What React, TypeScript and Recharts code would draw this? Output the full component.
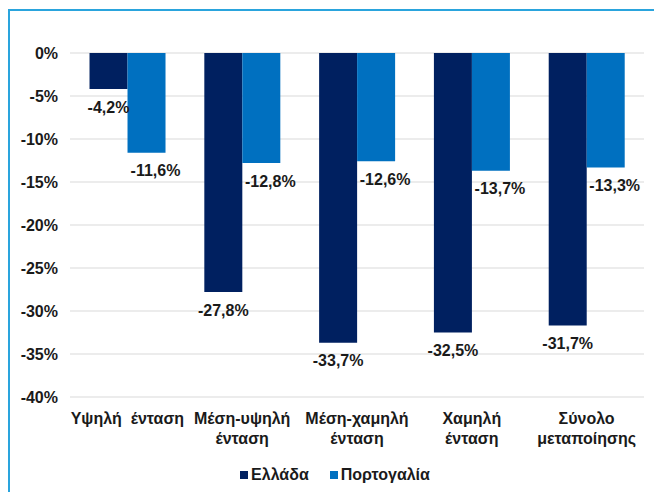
import { BarChart, Bar, XAxis, YAxis, CartesianGrid, Legend, LabelList } from "recharts";

const CATEGORIES = [
  ["Υψηλή  ένταση"],
  ["Μέση-υψηλή", "ένταση"],
  ["Μέση-χαμηλή", "ένταση"],
  ["Χαμηλή", "ένταση"],
  ["Σύνολο", "μεταποίησης"],
];
const GREECE = [-4.2, -27.8, -33.7, -32.5, -31.7];
const PORTUGAL = [-11.6, -12.8, -12.6, -13.7, -13.3];
const Y_TICKS = [0, -5, -10, -15, -20, -25, -30, -35, -40];

const GREECE_COLOR = "#002060";
const PORTUGAL_COLOR = "#0070c0";
const FONT = "'Liberation Sans', Arial, sans-serif";

const data = CATEGORIES.map((lines, i) => ({
  name: lines.join(" "),
  lines,
  greece: GREECE[i],
  portugal: PORTUGAL[i],
}));

const fmt = (v: number) => `${v.toFixed(1).replace(".", ",")}%`;

function CategoryTick({ x, y, payload, index }: any) {
  const lines = CATEGORIES[index] ?? [String(payload.value)];
  return (
    <text
      x={x}
      y={y}
      textAnchor="middle"
      fontFamily={FONT}
      fontSize={16}
      fontWeight="bold"
      fill="#1a1a1a"
      style={{ whiteSpace: "pre" }}
    >
      {lines.map((l: string, k: number) => (
        <tspan key={k} x={x} dy={k === 0 ? 19 : 20}>
          {l}
        </tspan>
      ))}
    </text>
  );
}

function makeLabel(dx: number) {
  return (props: any) => {
    const { x, y, width, height, value } = props;
    const bottom = Math.max(y, y + height);
    return (
      <text
        x={x + width / 2 + dx}
        y={bottom + 18}
        textAnchor="middle"
        dominantBaseline="central"
        fontFamily={FONT}
        fontSize={16}
        fontWeight="bold"
        fill="#1a1a1a"
      >
        {fmt(value)}
      </text>
    );
  };
}

function LegendContent() {
  const items = [
    { label: "Ελλάδα", color: GREECE_COLOR },
    { label: "Πορτογαλία", color: PORTUGAL_COLOR },
  ];
  return (
    <div
      style={{
        display: "flex",
        justifyContent: "center",
        gap: 21,
        fontFamily: FONT,
        fontSize: 16,
        fontWeight: "bold",
        color: "#1a1a1a",
        paddingLeft: 16,
      }}
    >
      {items.map((it) => (
        <div key={it.label} style={{ display: "flex", alignItems: "center", gap: 3 }}>
          <span style={{ display: "inline-block", width: 8, height: 8, background: it.color }} />
          <span>{it.label}</span>
        </div>
      ))}
    </div>
  );
}

export default function App() {
  return (
    <div style={{ position: "absolute", left: 0, top: 0, width: 654, height: 492, background: "#fff" }}>
      <div
        style={{
          position: "absolute",
          left: 8,
          top: 9,
          right: 0,
          bottom: 0,
          borderLeft: "2px solid #2aa4dd",
          borderTop: "2px solid #2aa4dd",
        }}
      />
      <BarChart
        width={654}
        height={492}
        data={data}
        margin={{ top: 53, right: 10, bottom: 0, left: 10 }}
        barGap={0}
        barCategoryGap="17%"
        style={{ position: "absolute", left: 0, top: 0 }}
      >
        <CartesianGrid vertical={false} stroke="#d9d9d9" />
        <XAxis
          dataKey="name"
          orientation="bottom"
          height={95}
          axisLine={false}
          tickLine={false}
          interval={0}
          tick={<CategoryTick />}
        />
        <YAxis
          domain={[-40, 0]}
          ticks={Y_TICKS}
          width={60}
          axisLine={false}
          tickLine={false}
          tickSize={0}
          tickMargin={12}
          tickFormatter={(v: number) => `${v}%`}
          tick={{ fontFamily: FONT, fontSize: 16, fontWeight: "bold", fill: "#1a1a1a" }}
        />
        <Legend
          verticalAlign="middle"
          align="center"
          content={<LegendContent />}
          wrapperStyle={{ top: 466, left: 0, width: 654 }}
        />
        <Bar dataKey="greece" name="Ελλάδα" fill={GREECE_COLOR} isAnimationActive={false}>
          <LabelList dataKey="greece" content={makeLabel(0)} />
        </Bar>
        <Bar dataKey="portugal" name="Πορτογαλία" fill={PORTUGAL_COLOR} isAnimationActive={false}>
          <LabelList dataKey="portugal" content={makeLabel(9)} />
        </Bar>
      </BarChart>
    </div>
  );
}
